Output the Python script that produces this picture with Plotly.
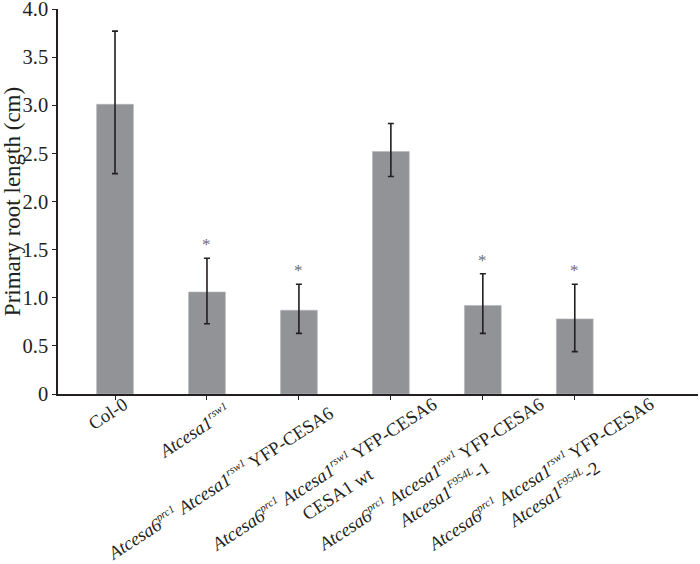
import plotly.graph_objects as go

# ---- data ----
categories = ["Col-0", "rsw1", "prc1 rsw1", "prc1 rsw1 CESA1 wt", "prc1 rsw1 F954L-1", "prc1 rsw1 F954L-2"]
root_length = [3.01, 1.06, 0.87, 2.52, 0.92, 0.78]
err_plus = [0.76, 0.35, 0.27, 0.29, 0.33, 0.36]
err_minus = [0.72, 0.33, 0.24, 0.26, 0.29, 0.34]
significant = [False, True, True, False, True, True]


def sup(t):
    return "<sup><span style='font-size:11px'><i>" + t + "</i></span></sup>"


line_main = "<i>Atcesa6</i>" + sup("prc1") + " <i>Atcesa1</i>" + sup("rsw1") + " YFP-CESA6"
tick_labels = [
    "Col-0",
    "<i>Atcesa1</i>" + sup("rsw1"),
    line_main,
    line_main + "<br>CESA1 wt",
    line_main + "<br><i>Atcesa1</i>" + sup("F954L") + "-1",
    line_main + "<br><i>Atcesa1</i>" + sup("F954L") + "-2",
]
y_ticks = [0, 0.5, 1.0, 1.5, 2.0, 2.5, 3.0, 3.5, 4.0]
y_tick_text = ["0", "0.5", "1.0", "1.5", "2.0", "2.5", "3.0", "3.5", "4.0"]

# ---- layout constants (label centre placement, pixels) ----
label_dx = [-7, -13, -79, -61, -46, -28]
label_dy = [-20, -37, -89, -90, -90, -90]

FONT = "Liberation Serif, Times New Roman, Times, serif"
INK = "#231f20"

fig = go.Figure()
fig.add_trace(go.Bar(
    x=categories,
    y=root_length,
    width=0.4,
    marker=dict(color="#929397", line=dict(color="#b4b5b8", width=0.6)),
    error_y=dict(type="data", symmetric=False, array=err_plus, arrayminus=err_minus,
                 color=INK, thickness=1.6, width=3),
    showlegend=False,
    hoverinfo="skip",
))

annotations = []
for i, cat in enumerate(categories):
    annotations.append(dict(
        x=cat, y=0, xref="x", yref="y", text=tick_labels[i], showarrow=False,
        textangle=-33, xanchor="center", yanchor="middle", align="center",
        xshift=label_dx[i], yshift=label_dy[i],
        font=dict(family=FONT, size=18.5, color=INK),
    ))
    if significant[i]:
        annotations.append(dict(
            x=cat, y=root_length[i] + err_plus[i], xref="x", yref="y", text="*",
            showarrow=False, xanchor="center", yanchor="bottom", yshift=2,
            font=dict(family=FONT, size=17, color="#6d6e71"),
        ))

fig.update_layout(
    width=700, height=564,
    margin=dict(l=58, r=2, t=9, b=170),
    paper_bgcolor="white", plot_bgcolor="white",
    font=dict(family=FONT, color=INK),
    annotations=annotations,
    bargap=0.6,
)
fig.update_xaxes(
    range=[-0.62, 6.34], showline=True, linewidth=1.5, linecolor=INK,
    ticks="outside", ticklen=4, tickwidth=1, tickcolor=INK,
    showticklabels=False, showgrid=False, zeroline=False, automargin=False,
)
fig.update_yaxes(
    range=[0, 4.0001], tickvals=y_ticks, ticktext=y_tick_text,
    showline=True, linewidth=1.5, linecolor=INK,
    ticks="outside", ticklen=4, tickwidth=1, tickcolor=INK,
    tickfont=dict(family=FONT, size=20.5, color=INK), ticklabeloverflow="allow",
    showgrid=False, zeroline=False, automargin=False,
    title=dict(text="Primary root length (cm)", font=dict(family=FONT, size=23, color=INK), standoff=6),
)

fig.write_html("out.html", config={"displayModeBar": False},
               post_script="document.body.style.margin='0';")
